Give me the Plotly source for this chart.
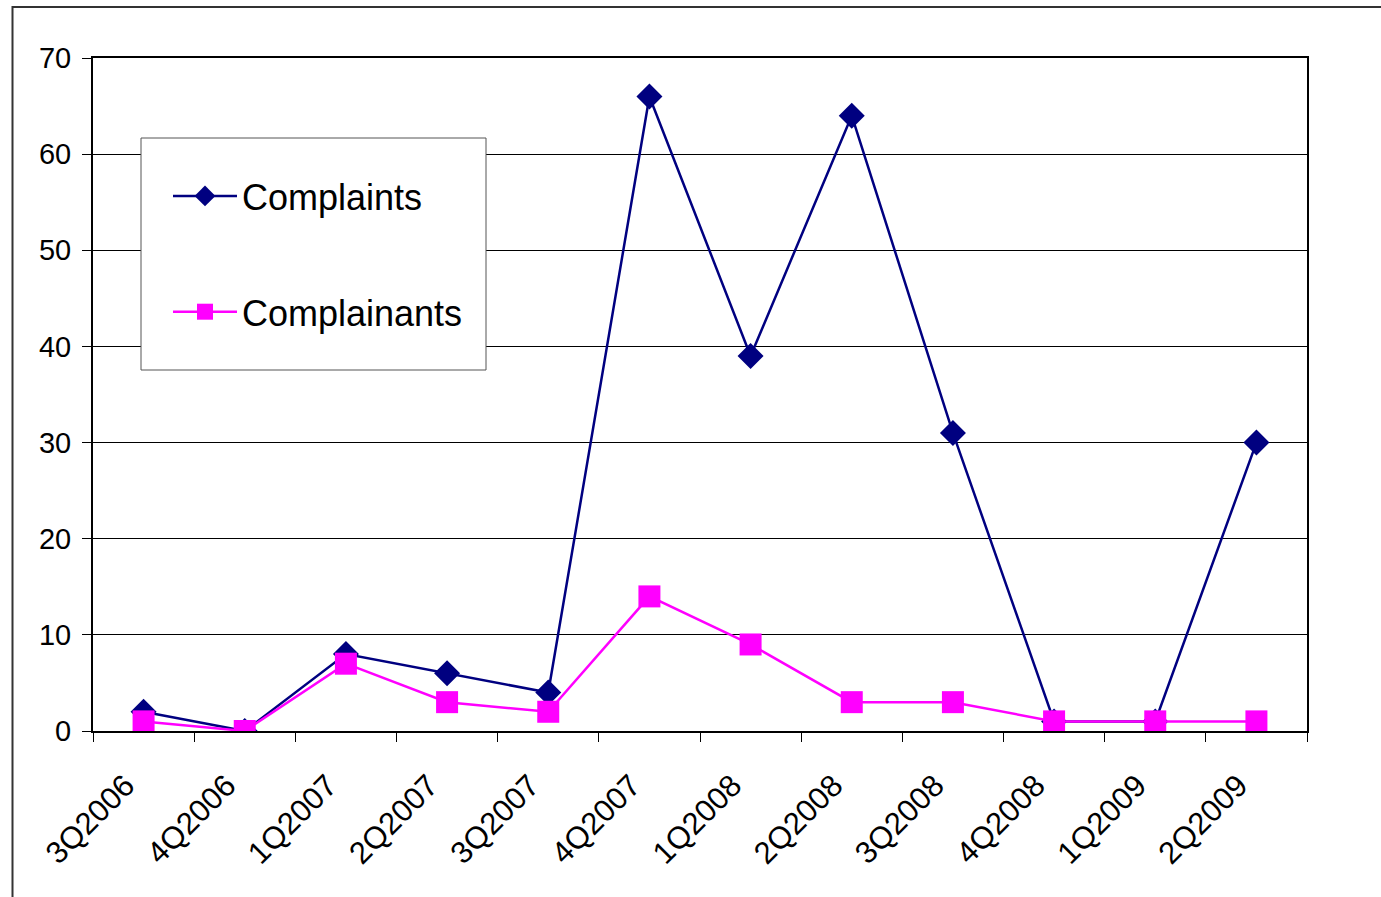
import plotly.graph_objects as go

quarters = ["3Q2006", "4Q2006", "1Q2007", "2Q2007", "3Q2007", "4Q2007",
            "1Q2008", "2Q2008", "3Q2008", "4Q2008", "1Q2009", "2Q2009"]
complaints = [2, 0, 8, 6, 4, 66, 39, 64, 31, 1, 1, 30]
complainants = [1, 0, 7, 3, 2, 14, 9, 3, 3, 1, 1, 1]

W, H = 1381, 897
L, T = 93, 58
R = W - 1307
B = H - 731
pw, ph = W - L - R, H - T - B

def px(xpage):
    return (xpage - L) / pw

def py(ypage):
    return (H - B - ypage) / ph

FONT = "Liberation Sans, Arial, sans-serif"

fig = go.Figure()
fig.add_trace(go.Scatter(
    x=quarters, y=complaints, name="Complaints", mode="lines+markers",
    line=dict(color="#000080", width=2.5),
    marker=dict(symbol="diamond", size=20, color="#000080"),
    legendgroup="a",
))
fig.add_trace(go.Scatter(
    x=quarters, y=complainants, name="Complainants", mode="lines+markers",
    line=dict(color="#FF00FF", width=2.5),
    marker=dict(symbol="square", size=22, color="#FF00FF"),
    legendgroup="b",
))

fig.update_layout(
    width=W, height=H,
    margin=dict(l=L, r=R, t=T, b=B, pad=0),
    paper_bgcolor="white", plot_bgcolor="white",
    font=dict(family=FONT, color="black"),
    showlegend=True,
    legend=dict(
        x=px(168), y=py(166), xanchor="left", yanchor="top",
        bgcolor="rgba(0,0,0,0)", borderwidth=0,
        font=dict(size=36, family=FONT, color="black"),
        itemwidth=64, tracegroupgap=66, traceorder="grouped",
    ),
    xaxis=dict(
        type="category", range=[-0.5, len(quarters) - 0.5],
        tickson="boundaries", ticks="outside", ticklen=9,
        tickwidth=1, tickcolor="black", showgrid=False,
        showline=True, linecolor="black", linewidth=2, mirror=True,
        tickangle=-45, tickfont=dict(size=31, family=FONT, color="black"),
        ticklabelshift=-18, ticklabelstandoff=22,
        zeroline=False,
    ),
    yaxis=dict(
        range=[0, 70], dtick=10, ticks="outside", ticklen=9, tickwidth=1,
        tickcolor="black", showgrid=True, gridcolor="black", gridwidth=1,
        showline=True, linecolor="black", linewidth=2, mirror=True,
        zeroline=False, tickfont=dict(size=29, family=FONT, color="black"),
        ticklabelstandoff=5,
    ),
    shapes=[
        dict(type="rect", xref="paper", yref="paper",
             x0=px(12.5), x1=px(1400), y0=py(7), y1=py(920),
             line=dict(color="#333333", width=2), layer="below"),
        dict(type="rect", xref="paper", yref="paper",
             x0=px(141), x1=px(486), y0=py(138), y1=py(370),
             line=dict(color="#555555", width=1), fillcolor="white",
             layer="above"),
    ],
)

fig.write_html(
    "out.html",
    config={"displayModeBar": False},
    post_script="document.body.style.margin='0';document.body.style.overflow='hidden';",
)
